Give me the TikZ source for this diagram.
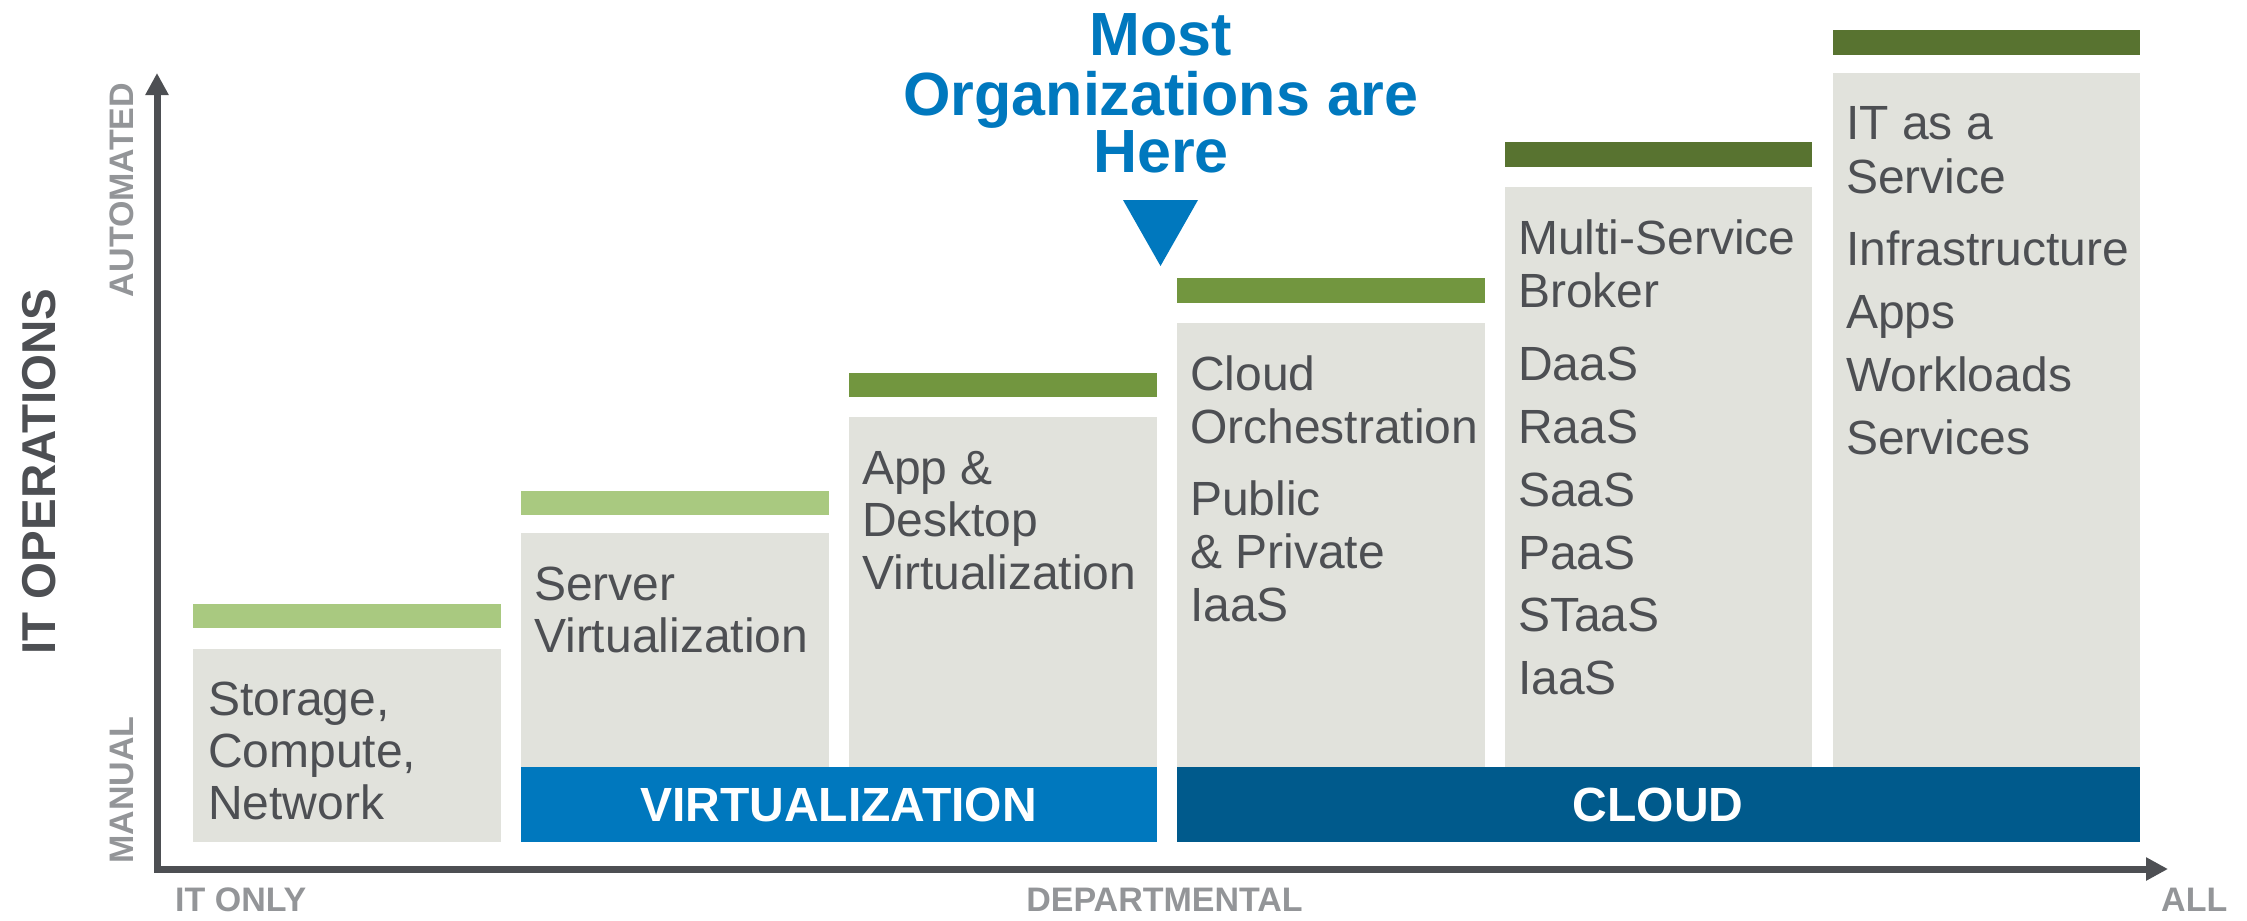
\documentclass[tikz,border=0pt]{standalone}
\usepackage{fontspec}
\setmainfont{Liberation Sans}
\usetikzlibrary{arrows.meta}
\definecolor{boxgray}{RGB}{225,226,220}
\definecolor{txtgray}{RGB}{77,79,83}
\definecolor{lblgray}{RGB}{147,149,152}
\definecolor{virtblue}{RGB}{0,120,190}
\definecolor{cloudblue}{RGB}{0,90,140}
\definecolor{lgreen}{RGB}{169,201,128}
\definecolor{mgreen}{RGB}{114,150,63}
\definecolor{dgreen}{RGB}{88,115,48}
\begin{document}
\begin{tikzpicture}[x=1pt,y=-1pt,
  boxtxt/.style={anchor=base west,inner sep=0,text=txtgray,font=\fontsize{48}{53}\selectfont},
  axlbl/.style={inner sep=0,text=lblgray,font=\fontsize{34}{40}\selectfont\bfseries},
  barlbl/.style={anchor=base,inner sep=0,text=white,font=\fontsize{48}{53}\selectfont\bfseries},
  titletxt/.style={anchor=base,inner sep=0,text=virtblue,font=\fontsize{61}{59}\selectfont\bfseries},
  axisline/.style={draw=txtgray,line width=7pt,{Triangle[length=22pt,width=22pt]}-{Triangle[length=22pt,width=22pt]}}]
\useasboundingbox (0,0) rectangle (2247,921);

% green level bars
\fill[lgreen] (193,604) rectangle (501,628);
\fill[lgreen] (521,491) rectangle (829,515);
\fill[mgreen] (849,373) rectangle (1157,397);
\fill[mgreen] (1177,278) rectangle (1485,303);
\fill[dgreen] (1505,142) rectangle (1812,167);
\fill[dgreen] (1833,30) rectangle (2140,55);

% gray columns
\fill[boxgray] (193,649) rectangle (501,842);
\fill[boxgray] (521,533) rectangle (829,767);
\fill[boxgray] (849,417) rectangle (1157,767);
\fill[boxgray] (1177,323) rectangle (1485,767);
\fill[boxgray] (1505,187) rectangle (1812,767);
\fill[boxgray] (1833,73) rectangle (2140,767);

% category bars
\fill[virtblue] (521,767) rectangle (1157,842);
\fill[cloudblue] (1177,767) rectangle (2140,842);
\node[barlbl] (virt) at (838.5,821.5) {VIRTUALIZATION};
\node[barlbl] (cloud) at (1658,821.5) {CLOUD};

% axes
\coordinate (ytip) at (157,73);
\coordinate (origin) at (157,869);
\coordinate (xtip) at (2168,869);
\draw[axisline] (ytip) -- (origin) -- (xtip);

% axis labels
\node[axlbl,anchor=base west] (itonly) at (175,911) {IT ONLY};
\node[axlbl,anchor=base] (dept) at (1164.5,911) {DEPARTMENTAL};
\node[axlbl,anchor=base west] (all) at (2161,911) {ALL};
\node[axlbl,anchor=base,rotate=90] (auto) at (133,190) {AUTOMATED};
\node[axlbl,anchor=base,rotate=90] (manual) at (133,790) {MANUAL};
\node[anchor=base,inner sep=0,rotate=90,text=txtgray,font=\fontsize{47.5}{50}\selectfont\bfseries] (itops) at (55,471.5) {IT OPERATIONS};

% title and marker
\node[titletxt] (title1) at (1161,55) {Most};
\node[titletxt] (title2) at (1161,115) {Organizations are};
\node[titletxt] (title3) at (1161,172) {Here};
\fill[virtblue] (1123,200) -- (1198,200) -- (1160.5,266) -- cycle;

% column 1
\node[boxtxt] (c1a) at (208,715) {Storage,};
\node[boxtxt] (c1b) at (208,767) {Compute,};
\node[boxtxt] (c1c) at (208,819) {Network};
% column 2
\node[boxtxt] (c2a) at (534,600) {Server};
\node[boxtxt] (c2b) at (534,652) {Virtualization};
% column 3
\node[boxtxt] (c3a) at (862,484) {App \&};
\node[boxtxt] (c3b) at (862,536) {Desktop};
\node[boxtxt] (c3c) at (862,589) {Virtualization};
% column 4
\node[boxtxt] (c4a) at (1190,390) {Cloud};
\node[boxtxt] (c4b) at (1190,443) {Orchestration};
\node[boxtxt] (c4c) at (1190,515) {Public};
\node[boxtxt] (c4d) at (1190,568) {\& Private};
\node[boxtxt] (c4e) at (1190,621) {IaaS};
% column 5
\node[boxtxt] (c5a) at (1518,254) {Multi-Service};
\node[boxtxt] (c5b) at (1518,307) {Broker};
\node[boxtxt] (c5c) at (1518,380) {DaaS};
\node[boxtxt] (c5d) at (1518,443) {RaaS};
\node[boxtxt] (c5e) at (1518,506) {SaaS};
\node[boxtxt] (c5f) at (1518,569) {PaaS};
\node[boxtxt] (c5g) at (1518,631) {STaaS};
\node[boxtxt] (c5h) at (1518,694) {IaaS};
% column 6
\node[boxtxt] (c6a) at (1846,139) {IT as a};
\node[boxtxt] (c6b) at (1846,193) {Service};
\node[boxtxt] (c6c) at (1846,265) {Infrastructure};
\node[boxtxt] (c6d) at (1846,328) {Apps};
\node[boxtxt] (c6e) at (1846,391) {Workloads};
\node[boxtxt] (c6f) at (1846,454) {Services};
\end{tikzpicture}
\end{document}
